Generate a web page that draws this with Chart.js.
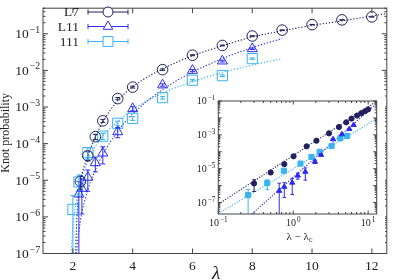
<!DOCTYPE html>
<html>
<head>
<meta charset="utf-8">
<script src="https://cdn.jsdelivr.net/npm/chart.js@4.4.1/dist/chart.umd.min.js"></script>
<style>
html, body { margin: 0; padding: 0; background: #fff; }
#wrap { position: relative; width: 395px; height: 280px; }
#main { position: absolute; left: 0; top: 0; }
#inset { position: absolute; left: 190px; top: 95px; }
</style>
</head>
<body>
<div id="wrap">
  <canvas id="main" width="395" height="280"></canvas>
  <canvas id="inset" width="195" height="150"></canvas>
</div>
<script>
// Main plot data: knot probability vs lambda

const lamL7 = [2.25, 2.5, 2.75, 3, 3.5, 4, 5, 6, 7, 8, 9, 10, 11, 12];
const probL7 = [9.3e-6, 4.7e-5, 1.55e-4, 4.2e-4, 1.7e-3, 3.5e-3, 1.05e-2, 2.6e-2, 4.8e-2, 8.7e-2, 0.126, 0.178, 0.24, 0.29];
const errL7 = [3.8e-6, 1.3e-5, 2.5e-5, 4e-5, 1.2e-4, 2e-4, 5e-4, 8e-4, 1.2e-3, 1.6e-3, 2e-3, 2.5e-3, 3e-3, 3.5e-3];

const lamL11 = [2.2, 2.3, 2.5, 2.75, 3, 3.5, 4, 5, 6, 7, 8];
const probL11 = [4.2e-6, 6e-6, 1.2e-5, 3e-5, 5.5e-5, 2.1e-4, 9e-4, 4e-3, 1e-2, 1.8e-2, 3.9e-2];
const errL11 = [5e-6, 4.8e-6, 7e-6, 1.3e-5, 2.7e-5, 6.5e-5, 1.2e-4, 3e-4, 6e-4, 1e-3, 1.8e-3];

const lam111 = [2, 2.2, 2.5, 3, 3.5, 4, 5, 6, 7, 8];
const prob111 = [1.6e-6, 9e-6, 5.7e-5, 1.6e-4, 3.6e-4, 4.9e-4, 1.8e-3, 5.4e-3, 7.2e-3, 2.1e-2];
const err111 = [2.2e-6, 5e-6, 2e-5, 3e-5, 5e-5, 6e-5, 1.5e-4, 3e-4, 4e-4, 1e-3];

// dotted fit curves
const fitL7X = [2.09, 2.15, 2.25, 2.5, 2.75, 3, 3.5, 4, 5, 6, 7, 8, 9, 10, 11, 12.5];
const fitL7Y = [1e-7, 1.6e-6, 8.5e-6, 4.6e-5, 1.5e-4, 3.9e-4, 1.5e-3, 3.6e-3, 1.1e-2, 2.5e-2, 4.7e-2, 8.2e-2, 0.12, 0.17, 0.225, 0.36];
const fitL11X = [2.12, 2.2, 2.3, 2.5, 2.75, 3, 3.5, 4, 5, 6, 7, 8, 9];
const fitL11Y = [1e-7, 4e-7, 1.3e-6, 5.5e-6, 1.9e-5, 5e-5, 2.2e-4, 6.5e-4, 3e-3, 9e-3, 2.1e-2, 4.2e-2, 7.4e-2];
const fit111X = [1.94, 2.0, 2.1, 2.2, 2.5, 3, 3.5, 4, 5, 6, 7, 8, 9];
const fit111Y = [1e-7, 5e-7, 2.3e-6, 6e-6, 3.4e-5, 1.6e-4, 4e-4, 8.5e-4, 2.4e-3, 4.9e-3, 8.8e-3, 1.4e-2, 2.1e-2];

const mainXTicks = [2, 4, 6, 8, 10, 12];
const mainYLabels = [-7, -6, -5, -4, -3, -2, -1];

// Inset data: vs lambda - lambda_c (log-log)
const dL7 = [0.3, 0.5, 0.76, 1.01, 1.51, 2.04, 3.0, 4.07, 5.1, 6.0, 7.1, 8.1, 9.1, 10];
const pL7 = [1.35e-6, 6e-6, 1.86e-5, 5.4e-5, 2.1e-4, 4.5e-4, 1.23e-3, 2.9e-3, 5.5e-3, 9.1e-3, 1.38e-2, 1.9e-2, 2.5e-2, 3.2e-2];
const eL7 = [9e-7, 1.5e-6, 3e-6, 5e-6, 1.2e-5, 2.5e-5, 5e-5, 1e-4, 1.5e-4, 2e-4, 3e-4, 4e-4, 5e-4, 6e-4];

const dL11 = [0.65, 0.76, 0.97, 1.15, 1.45, 1.95, 2.35, 3.4, 4.45, 5.6, 6.4];
const pL11 = [4.9e-7, 8.5e-7, 1.5e-6, 3.9e-6, 6.6e-6, 2.6e-5, 6.6e-5, 5.5e-4, 1.07e-3, 2.2e-3, 3.8e-3];
const eL11 = [9e-7, 6.5e-7, 1.2e-6, 1.5e-6, 4.5e-6, 6e-6, 1.2e-5, 4e-5, 8e-5, 1.2e-4, 1.8e-4];

const d111 = [0.25, 0.45, 0.75, 1.25, 1.75, 2.25, 3.25, 4.25, 5.25];
const p111 = [2.75e-7, 1.4e-6, 7.6e-6, 2.0e-5, 4.9e-5, 1e-4, 2.2e-4, 6.2e-4, 8.5e-4];
const e111 = [3.3e-7, 8e-7, 1.5e-6, 3e-6, 5e-6, 1e-5, 2e-5, 4e-5, 5e-5];

const insFitL7X = [0.1, 13];
const insFitL7Y = [8e-8, 0.095];
const insFitL11X = [0.28, 13];
const insFitL11Y = [2.1e-8, 0.072];
const insFit111X = [0.1, 13];
const insFit111Y = [2.2e-8, 8.9e-3];

const insXLabels = [-1, 0, 1];
const insYLabels = [-7, -5, -3, -1];

const SERIF = '"Liberation Serif", "DejaVu Serif", serif';
const C7 = '#22225f';
const C11 = '#2c2cf0';
const C111 = '#38b4f2';
const AXIS = '#444';

function pts(xs, ys) {
    return xs.map((x, i) => ({ x: x, y: ys[i] }));
}

function logTicks(min, max) {
    const out = [];
    for (let n = Math.floor(Math.log10(min)); n <= Math.ceil(Math.log10(max)); n++) {
        for (let k = 1; k <= 9; k++) {
            const v = k * Math.pow(10, n);
            if (v >= min * 0.9999 && v <= max * 1.0001) out.push({ v: v, major: k === 1 });
        }
    }
    return out;
}

function drawPow(ctx, exp, x, y, size, align) {
    const base = '10';
    const sup = (exp < 0 ? '\u2212' : '') + Math.abs(exp);
    ctx.font = size + 'px ' + SERIF;
    const wb = ctx.measureText(base).width;
    ctx.font = (size * 0.72) + 'px ' + SERIF;
    const ws = ctx.measureText(sup).width;
    const w = wb + ws + 1;
    const x0 = align === 'right' ? x - w : x - w / 2;
    ctx.textAlign = 'left';
    ctx.textBaseline = 'alphabetic';
    ctx.font = size + 'px ' + SERIF;
    ctx.fillText(base, x0, y);
    ctx.font = (size * 0.72) + 'px ' + SERIF;
    ctx.fillText(sup, x0 + wb + 1, y - size * 0.4);
}

const whiteBg = {
    id: 'whiteBg',
    beforeDraw(chart) {
        const ctx = chart.ctx;
        ctx.save();
        ctx.fillStyle = '#fff';
        ctx.fillRect(0, 0, chart.width, chart.height);
        ctx.restore();
    }
};

// error bars drawn from each dataset's errs array
const errBars = {
    id: 'errBars',
    afterDatasetsDraw(chart) {
        const { ctx, chartArea: a } = chart;
        const xs = chart.scales.x, ys = chart.scales.y;
        ctx.save();
        ctx.beginPath();
        ctx.rect(a.left, a.top, a.right - a.left, a.bottom - a.top);
        ctx.clip();
        chart.data.datasets.forEach(ds => {
            if (!ds.errs) return;
            const cap = ds.cap || 2.5;
            ctx.strokeStyle = ds.errColor || ds.borderColor;
            ctx.lineWidth = ds.errWidth || 1;
            ds.data.forEach((p, i) => {
                const e = ds.errs[i];
                const px = xs.getPixelForValue(p.x);
                const top = ys.getPixelForValue(p.y + e);
                const lo = p.y - e;
                const bot = lo > 0 ? ys.getPixelForValue(lo) : a.bottom + 2;
                ctx.beginPath();
                ctx.moveTo(px, top);
                ctx.lineTo(px, bot);
                ctx.moveTo(px - cap, top);
                ctx.lineTo(px + cap, top);
                if (lo > 0) {
                    ctx.moveTo(px - cap, bot);
                    ctx.lineTo(px + cap, bot);
                }
                ctx.stroke();
            });
        });
        ctx.restore();
    }
};

// frame, inward ticks and the 10^n labels
const frame = {
    id: 'frame',
    afterDraw(chart, args, o) {
        const { ctx, chartArea: a } = chart;
        const xs = chart.scales.x, ys = chart.scales.y;
        ctx.save();
        ctx.strokeStyle = AXIS;
        ctx.lineWidth = 1;
        ctx.strokeRect(a.left, a.top, a.right - a.left, a.bottom - a.top);
        ctx.beginPath();
        const xt = o.xLog ? logTicks(xs.min, xs.max) : o.xTicks.map(v => ({ v: v, major: true }));
        xt.forEach(t => {
            const px = xs.getPixelForValue(t.v);
            const len = t.major ? o.major : o.minor;
            ctx.moveTo(px, a.bottom); ctx.lineTo(px, a.bottom - len);
            ctx.moveTo(px, a.top); ctx.lineTo(px, a.top + len);
        });
        logTicks(ys.min, ys.max).forEach(t => {
            const py = ys.getPixelForValue(t.v);
            const len = t.major ? o.major : o.minor;
            ctx.moveTo(a.left, py); ctx.lineTo(a.left + len, py);
            ctx.moveTo(a.right, py); ctx.lineTo(a.right - len, py);
        });
        ctx.stroke();

        ctx.fillStyle = '#222';
        o.yLabels.forEach(n => {
            const py = ys.getPixelForValue(Math.pow(10, n));
            drawPow(ctx, n, a.left - o.labelGap, py + o.fs * 0.33, o.fs, 'right');
        });
        if (o.xLabels) {
            o.xLabels.forEach(n => {
                const px = xs.getPixelForValue(Math.pow(10, n));
                drawPow(ctx, n, px, a.bottom + o.fs + 2, o.fs, 'center');
            });
        }
        ctx.restore();
    }
};

const mainText = {
    id: 'mainText',
    afterDraw(chart) {
        const { ctx, chartArea: a } = chart;
        ctx.save();
        ctx.fillStyle = '#222';
        // y title
        ctx.translate(9, (a.top + a.bottom) / 2 + 2);
        ctx.rotate(-Math.PI / 2);
        ctx.font = '12px ' + SERIF;
        ctx.textAlign = 'center';
        ctx.textBaseline = 'alphabetic';
        ctx.fillText('Knot probability', 0, 0);
        ctx.restore();

        ctx.save();
        ctx.fillStyle = '#222';
        ctx.font = 'italic 19px ' + SERIF;
        ctx.textAlign = 'center';
        ctx.textBaseline = 'alphabetic';
        ctx.fillText('\u03bb', 216, 279);

        // legend
        const rows = [
            { label: 'L7', color: C7, style: 'circle', r: 5, y: 12 },
            { label: 'L11', color: C11, style: 'triangle', r: 5.5, y: 26.5 },
            { label: '111', color: C111, style: 'rect', r: 7, y: 41.5 }
        ];
        rows.forEach(row => {
            ctx.font = '13.5px ' + SERIF;
            ctx.textAlign = 'right';
            ctx.textBaseline = 'middle';
            ctx.fillStyle = '#222';
            ctx.fillText(row.label, 79, row.y + 0.5);
            ctx.strokeStyle = row.color;
            ctx.lineWidth = 1;
            ctx.beginPath();
            ctx.moveTo(88, row.y); ctx.lineTo(128, row.y);
            ctx.moveTo(88, row.y - 2.5); ctx.lineTo(88, row.y + 2.5);
            ctx.moveTo(128, row.y - 2.5); ctx.lineTo(128, row.y + 2.5);
            ctx.stroke();
            ctx.fillStyle = '#fff';
            Chart.helpers.drawPoint(ctx, { pointStyle: row.style, radius: row.r, borderWidth: 1, rotation: 0 }, 108, row.y);
        });
        ctx.restore();
    }
};

const insetText = {
    id: 'insetText',
    afterDraw(chart) {
        const { ctx, chartArea: a } = chart;
        ctx.save();
        ctx.fillStyle = '#222';
        ctx.textBaseline = 'alphabetic';
        ctx.textAlign = 'left';
        ctx.font = '11px ' + SERIF;
        const t1 = '\u03bb \u2212 \u03bb';
        const w1 = ctx.measureText(t1).width;
        ctx.font = '8px ' + SERIF;
        const w2 = ctx.measureText('c').width;
        const x0 = (a.left + a.right) / 2 - (w1 + w2) / 2 + 2;
        const y0 = a.bottom + 26;
        ctx.font = '11px ' + SERIF;
        ctx.fillText(t1, x0, y0);
        ctx.font = '8px ' + SERIF;
        ctx.fillText('c', x0 + w1, y0 + 2);
        ctx.restore();
    }
};

function pointSet(label, xs, ys, es, color, style, r, fill, cap) {
    return {
        label: label,
        data: pts(xs, ys),
        errs: es,
        cap: cap,
        showLine: false,
        borderColor: color,
        backgroundColor: fill,
        pointStyle: style,
        pointRadius: r,
        pointBorderWidth: 1,
        pointBackgroundColor: fill,
        pointBorderColor: color
    };
}

function fitSet(xs, ys, color, dash) {
    return {
        data: pts(xs, ys),
        borderColor: color,
        borderWidth: 1.1,
        borderDash: dash,
        pointRadius: 0,
        fill: false,
        cubicInterpolationMode: 'monotone'
    };
}

new Chart(document.getElementById('main'), {
    type: 'line',
    data: {
        datasets: [
            pointSet('L7', lamL7, probL7, errL7, C7, 'circle', 5.3, 'rgba(0,0,0,0)', 2.5),
            pointSet('L11', lamL11, probL11, errL11, C11, 'triangle', 5.8, 'rgba(0,0,0,0)', 2.5),
            pointSet('111', lam111, prob111, err111, C111, 'rect', 7.2, 'rgba(0,0,0,0)', 2.5),
            fitSet(fitL7X, fitL7Y, C7, [1.3, 1.8]),
            fitSet(fitL11X, fitL11Y, C11, [1.3, 1.8]),
            fitSet(fit111X, fit111Y, C111, [1.3, 1.8])
        ]
    },
    options: {
        responsive: false,
        animation: false,
        layout: { padding: { left: 0, right: 0.5, top: 0.5, bottom: 0 } },
        plugins: {
            legend: { display: false },
            tooltip: { enabled: false },
            frame: { xTicks: mainXTicks, yLabels: mainYLabels, major: 5, minor: 2.5, fs: 13.5, labelGap: 3 }
        },
        scales: {
            x: {
                type: 'linear',
                min: 1,
                max: 12.5,
                afterBuildTicks: s => { s.ticks = mainXTicks.map(v => ({ value: v })); },
                afterFit: s => { s.height = 26.5; },
                grid: { display: false, drawTicks: false },
                border: { display: false },
                ticks: { font: { family: SERIF, size: 13.5 }, color: '#222', padding: 5, maxRotation: 0 }
            },
            y: {
                type: 'logarithmic',
                min: 1e-7,
                max: 0.5,
                afterFit: s => { s.width = 43; },
                grid: { display: false, drawTicks: false },
                border: { display: false },
                ticks: { display: false }
            }
        }
    },
    plugins: [whiteBg, errBars, frame, mainText]
});

new Chart(document.getElementById('inset'), {
    type: 'line',
    data: {
        datasets: [
            pointSet('L7', dL7, pL7, eL7, C7, 'circle', 2.6, C7, 1.8),
            pointSet('L11', dL11, pL11, eL11, C11, 'triangle', 3, C11, 1.8),
            pointSet('111', d111, p111, e111, C111, 'rect', 3.6, C111, 1.8),
            fitSet(insFitL7X, insFitL7Y, C7, [1.2, 1.5]),
            fitSet(insFitL11X, insFitL11Y, C11, [1.2, 1.5]),
            fitSet(insFit111X, insFit111Y, C111, [1.2, 1.5])
        ]
    },
    options: {
        responsive: false,
        animation: false,
        layout: { padding: { left: 0, right: 8.3, top: 6, bottom: 0 } },
        plugins: {
            legend: { display: false },
            tooltip: { enabled: false },
            frame: { xLog: true, xLabels: insXLabels, yLabels: insYLabels, major: 3.5, minor: 2, fs: 10, labelGap: 3 }
        },
        scales: {
            x: {
                type: 'logarithmic',
                min: 0.1,
                max: 13,
                afterFit: s => { s.height = 31; },
                grid: { display: false, drawTicks: false },
                border: { display: false },
                ticks: { display: false }
            },
            y: {
                type: 'logarithmic',
                min: 2.1e-8,
                max: 0.1,
                afterFit: s => { s.width = 28.3; },
                grid: { display: false, drawTicks: false },
                border: { display: false },
                ticks: { display: false }
            }
        }
    },
    plugins: [whiteBg, errBars, frame, insetText]
});
</script>
</body>
</html>
